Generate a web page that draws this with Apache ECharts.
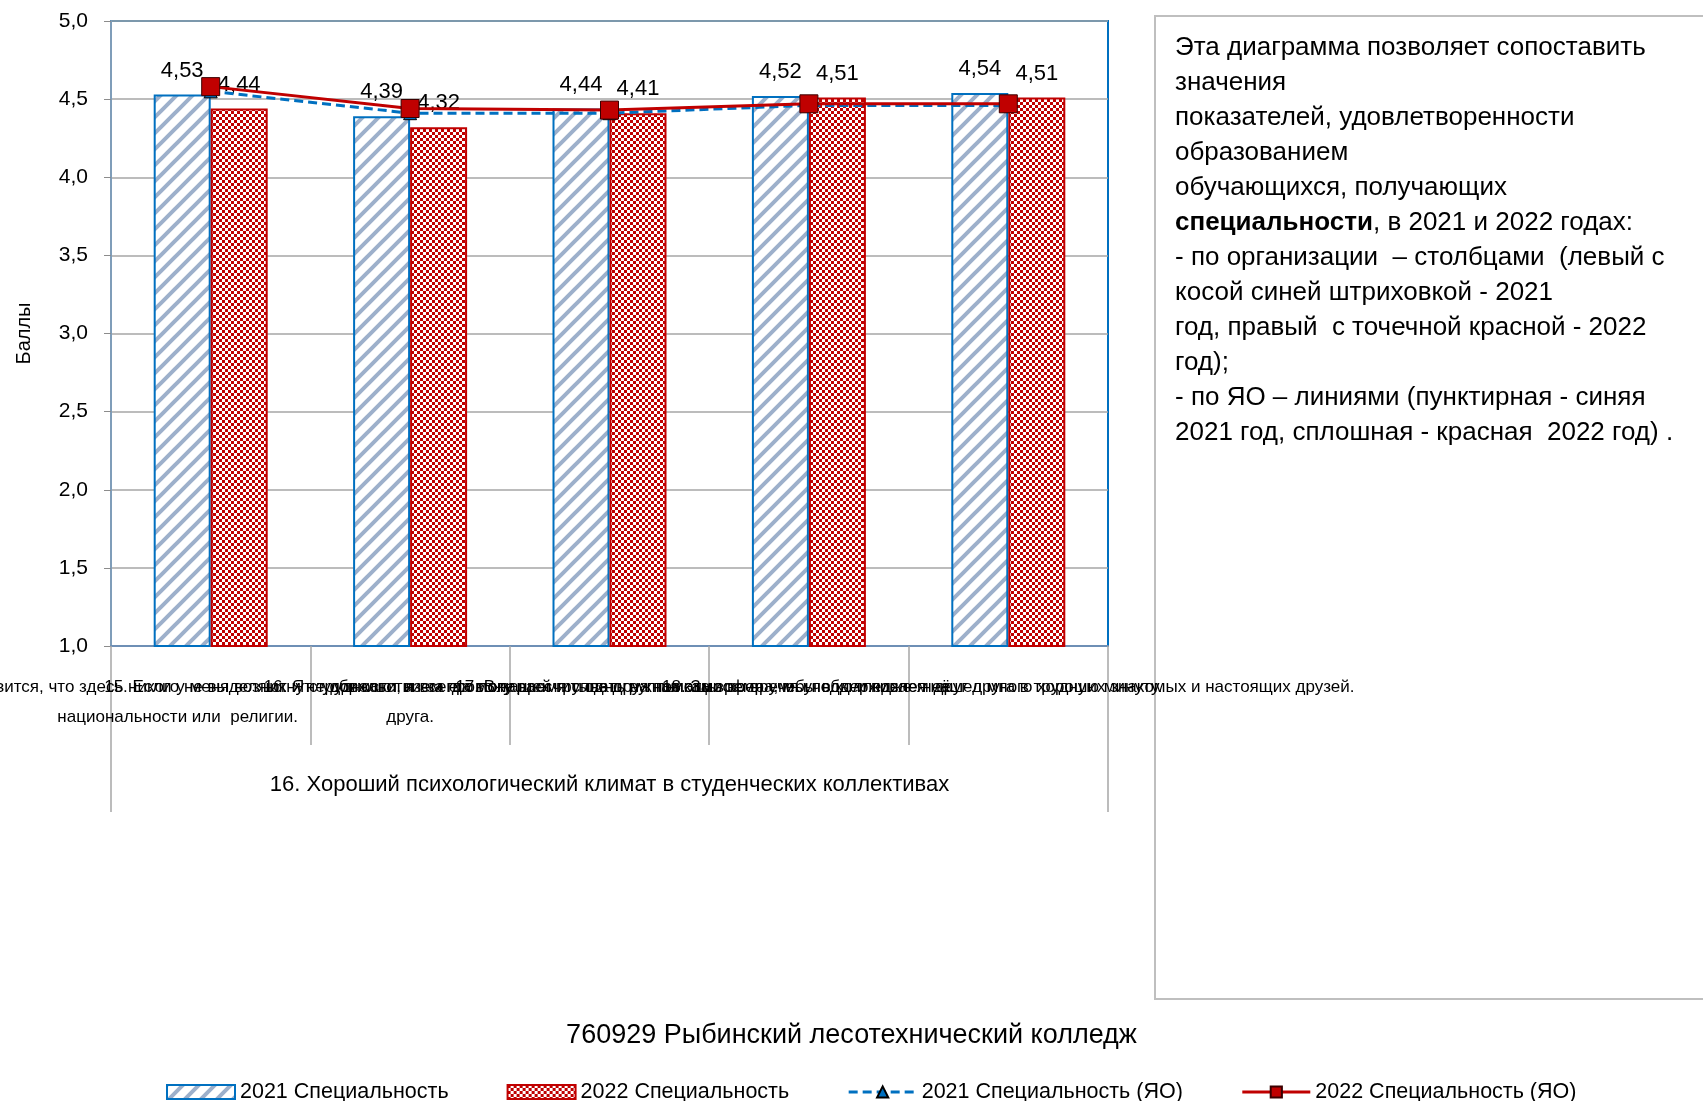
<!DOCTYPE html>
<html>
<head>
<meta charset="utf-8">
<script src="https://cdn.jsdelivr.net/npm/echarts@6/dist/echarts.min.js"></script>
<style>
html,body{margin:0;padding:0;background:#fff;}
#chart{width:1703px;height:1101px;}
</style>
</head>
<body>
<div id="chart"></div>
<script>
// ---- data ----
const categories = [
  '14. Мне нравится, что здесь никого не выделяют и не обижают из-за его пола,\nнациональности или  религии.              ',
  '15. Если у меня возникнут трудности, я всегда могу рассчитывать на помощь\nдруга.',
  '16. Я с удовольствием провожу время с одногруппниками во время учебы и после неё.',
  '17. В нашей группе дружная атмосфера, мы поддерживаем друг друга в трудную минуту.',
  '18. За время учебы в колледже я нашел много хороших знакомых и настоящих друзей.'
];
const groupLabel = ['16. Хороший психологический климат в студенческих коллективах'];
const seriesNames = ['2021 Специальность', '2022 Специальность', '2021 Специальность (ЯО)', '2022 Специальность (ЯО)'];
const spec2021 = [4.53, 4.39, 4.44, 4.52, 4.54];
const spec2022 = [4.44, 4.32, 4.41, 4.51, 4.51];
const yo2021 = [4.55, 4.41, 4.41, 4.46, 4.46];
const yo2022 = [4.58, 4.44, 4.43, 4.47, 4.47];
const yMin = 1.0, yMax = 5.0, yStep = 0.5;
const yAxisName = 'Баллы';
const chartTitle = '760929 Рыбинский лесотехнический колледж';
const noteLines = [
  'Эта диаграмма позволяет сопоставить',
  'значения',
  'показателей, удовлетворенности',
  'образованием',
  'обучающихся, получающих',
  '{b|специальности}, в 2021 и 2022 годах:',
  '- по организации  – столбцами  (левый с',
  'косой синей штриховкой - 2021',
  'год, правый  с точечной красной - 2022',
  'год);',
  '- по ЯО – линиями (пунктирная - синяя',
  '2021 год, сплошная - красная  2022 год) .'
];

// ---- patterns ----
function hatchPattern() {
  const s = 16;
  const c = document.createElement('canvas');
  c.width = s; c.height = s;
  const g = c.getContext('2d');
  g.fillStyle = '#ffffff';
  g.fillRect(0, 0, s, s);
  g.strokeStyle = '#9DB0CB';
  g.lineWidth = 4;
  g.beginPath();
  g.moveTo(-2, s + 2); g.lineTo(s + 2, -2);
  g.moveTo(-2, 2); g.lineTo(2, -2);
  g.moveTo(s - 2, s + 2); g.lineTo(s + 2, s - 2);
  g.stroke();
  return c;
}
function checkPattern() {
  const s = 6;
  const c = document.createElement('canvas');
  c.width = s; c.height = s;
  const g = c.getContext('2d');
  g.fillStyle = '#ffffff';
  g.fillRect(0, 0, s, s);
  g.fillStyle = '#C00000';
  g.fillRect(0, 0, 3, 3);
  g.fillRect(3, 3, 3, 3);
  return c;
}

const FONT = 'Liberation Sans';
const fmt2 = v => v.toFixed(2).replace('.', ',');
const fmt1 = v => v.toFixed(1).replace('.', ',');

const chart = echarts.init(document.getElementById('chart'));
chart.setOption({
  animation: false,
  textStyle: { fontFamily: FONT, color: '#000' },
  title: {
    text: chartTitle,
    left: 'center',
    top: 1017,
    textStyle: { fontSize: 27, fontWeight: 'normal', color: '#000', fontFamily: FONT }
  },
  legend: {
    left: 161,
    top: 1076,
    itemWidth: 68,
    itemHeight: 14,
    itemGap: 58,
    textStyle: { fontSize: 21.5, color: '#000', fontFamily: FONT },
    data: [
      { name: seriesNames[0], icon: 'rect' },
      { name: seriesNames[1], icon: 'rect' },
      { name: seriesNames[2], lineStyle: { width: 3 } },
      { name: seriesNames[3], lineStyle: { width: 3 } }
    ]
  },
  grid: {
    left: 111, right: 595, top: 21, bottom: 455,
    containLabel: false,
    outerBoundsMode: 'none',
    show: true, borderColor: '#0070C0', borderWidth: 2, backgroundColor: '#fff'
  },
  xAxis: [
    {
      type: 'category',
      data: categories,
      axisLine: { show: true, lineStyle: { color: '#6E8FB5', width: 2 } },
      axisTick: { show: true, interval: 0, length: 99, lineStyle: { color: '#A6A6A6', width: 1.5 } },
      axisLabel: {
        interval: 0, hideOverlap: false, margin: 26,
        fontSize: 17, lineHeight: 30, color: '#000', fontFamily: FONT
      }
    },
    {
      type: 'category',
      data: groupLabel,
      position: 'bottom',
      axisLine: { show: false },
      axisTick: { show: true, interval: 0, length: 166, lineStyle: { color: '#A6A6A6', width: 1.5 } },
      axisLabel: { interval: 0, margin: 128, fontSize: 22, color: '#000', fontFamily: FONT }
    }
  ],
  yAxis: {
    type: 'value',
    min: yMin, max: yMax, interval: yStep,
    name: yAxisName,
    nameLocation: 'middle',
    nameGap: 77,
    nameRotate: 90,
    nameTextStyle: { fontSize: 20, color: '#000', fontFamily: FONT },
    axisLine: { show: true, lineStyle: { color: '#7F9DB9', width: 2 } },
    axisTick: { show: true, length: 7, lineStyle: { color: '#8C8C8C' } },
    axisLabel: { fontSize: 21, color: '#000', margin: 23, formatter: fmt1, fontFamily: FONT },
    splitLine: { show: true, lineStyle: { color: '#A6A6A6', width: 1.5 } }
  },
  series: [
    {
      name: seriesNames[0], type: 'bar', data: spec2021,
      barWidth: 57, barGap: '0%',
      itemStyle: { color: { image: hatchPattern(), repeat: 'repeat' }, borderColor: '#0070C0', borderWidth: 2 },
      label: { show: true, position: 'top', distance: 13, fontSize: 22, color: '#000', formatter: p => fmt2(p.value), fontFamily: FONT }
    },
    {
      name: seriesNames[1], type: 'bar', data: spec2022,
      barWidth: 57, barGap: '0%',
      itemStyle: { color: { image: checkPattern(), repeat: 'repeat' }, borderColor: '#C00000', borderWidth: 2 },
      label: { show: true, position: 'top', distance: 13, fontSize: 22, color: '#000', formatter: p => fmt2(p.value), fontFamily: FONT }
    },
    {
      name: seriesNames[2], type: 'line', data: yo2021,
      symbol: 'triangle', symbolSize: 13,
      lineStyle: { color: '#0070C0', width: 3, type: [9, 5] },
      itemStyle: { color: '#0070C0', borderColor: '#000', borderWidth: 1 },
      z: 3
    },
    {
      name: seriesNames[3], type: 'line', data: yo2022,
      symbol: 'rect', symbolSize: 18,
      lineStyle: { color: '#C00000', width: 3 },
      itemStyle: { color: '#C00000', borderColor: '#3A0000', borderWidth: 1 },
      z: 4
    }
  ],
  graphic: [
    {
      type: 'rect', left: 1154, top: 15, z: 0,
      shape: { width: 620, height: 983 },
      style: { fill: '#fff', stroke: '#BFBFBF', lineWidth: 2 }
    },
    {
      type: 'text', left: 1175, top: 30, z: 1,
      style: {
        text: noteLines.join('\n'),
        fontSize: 26, lineHeight: 35, fill: '#000', fontFamily: FONT,
        rich: { b: { fontWeight: 'bold', fontSize: 26, lineHeight: 35, fontFamily: FONT } }
      }
    }
  ]
});
</script>
</body>
</html>
